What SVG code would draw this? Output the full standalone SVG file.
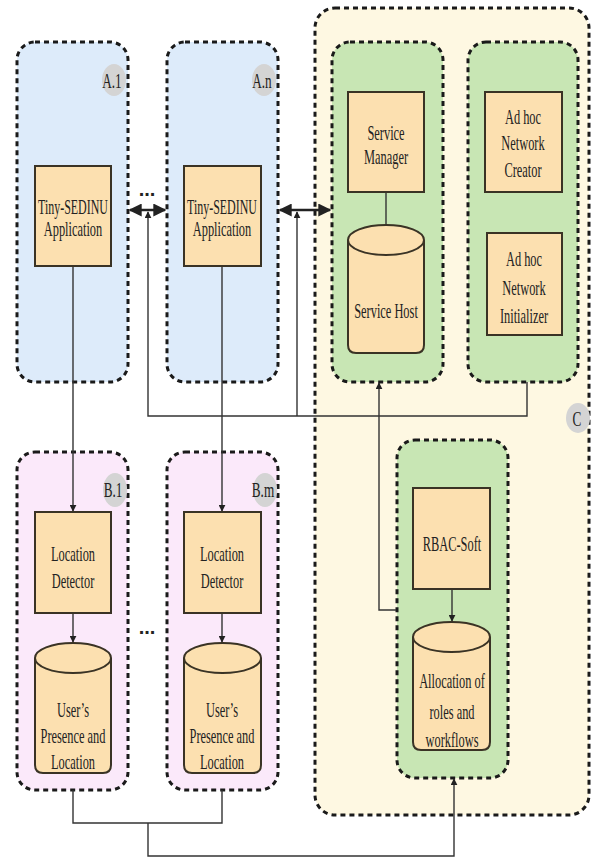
<svg xmlns="http://www.w3.org/2000/svg" width="595" height="858" viewBox="0 0 595 858">
<defs>
<marker id="ah" viewBox="0 0 10 10" refX="9" refY="5" markerWidth="7" markerHeight="7" markerUnits="userSpaceOnUse" orient="auto-start-reverse">
<path d="M0,0 L10,5 L0,10 z" fill="#222"/>
</marker>
<marker id="ah2" viewBox="0 0 10 10" refX="9" refY="5" markerWidth="5" markerHeight="5" orient="auto-start-reverse">
<path d="M0,0 L10,5 L0,10 z" fill="#222"/>
</marker>
</defs>
<style>
.grp{stroke:#1a1a1a;stroke-width:3;stroke-dasharray:5 4}
.blue{fill:#DDEBFA}
.pink{fill:#FBE9FA}
.green{fill:#C8E6B4}
.yel{fill:#FEF8E2}
.box{fill:#FCE0B0;stroke:#3a3325;stroke-width:2}
.badge{fill:#D4D4D4}
.t{font-family:"Liberation Serif","Times New Roman",serif;font-size:21px;fill:#222;text-anchor:middle}
.b{font-family:"Liberation Serif","Times New Roman",serif;font-size:22px;fill:#222;text-anchor:middle}
.c{fill:none;stroke:#333;stroke-width:1.4}
.d{fill:none;stroke:#222;stroke-width:2.6}
.dots{font-family:"Liberation Sans",Arial,sans-serif;font-size:20px;font-weight:bold;fill:#222;text-anchor:middle}
</style>
<rect width="595" height="858" fill="#fff"/>

<g id="groupC">
<rect class="grp yel" x="315" y="8" width="274" height="807" rx="20"/>
<ellipse class="badge" cx="578" cy="418" rx="12" ry="15"/>
<text class="b" transform="translate(577,0) scale(0.6,1)" x="0" y="426">C</text>
</g>

<g id="groupA1">
<rect class="grp blue" x="17" y="42" width="111" height="340" rx="18"/>
<ellipse class="badge" cx="114" cy="80" rx="12" ry="16"/>
<text class="b" transform="translate(112,0) scale(0.6,1)" x="0" y="88">A.1</text>
</g>
<g id="groupAn">
<rect class="grp blue" x="167" y="42" width="111" height="340" rx="18"/>
<ellipse class="badge" cx="264" cy="80" rx="12" ry="16"/>
<text class="b" transform="translate(262,0) scale(0.6,1)" x="0" y="88">A.n</text>
</g>
<g id="groupB1">
<rect class="grp pink" x="17" y="452" width="111" height="338" rx="18"/>
<ellipse class="badge" cx="115" cy="490" rx="12" ry="17"/>
<text class="b" transform="translate(113,0) scale(0.6,1)" x="0" y="497">B.1</text>
</g>
<g id="groupBm">
<rect class="grp pink" x="167" y="452" width="111" height="338" rx="18"/>
<ellipse class="badge" cx="265" cy="490" rx="12" ry="17"/>
<text class="b" transform="translate(263,0) scale(0.6,1)" x="0" y="497">B.m</text>
</g>
<g id="groupService">
<rect class="grp green" x="332" y="42" width="111" height="340" rx="18"/>
</g>
<g id="groupAdhoc">
<rect class="grp green" x="468" y="42" width="110" height="340" rx="18"/>
</g>
<g id="groupRBAC">
<rect class="grp green" x="397" y="440" width="111" height="338" rx="18"/>
</g>

<g id="connectors">
<path class="c" d="M73,266 V511" marker-end="url(#ah)"/>
<path class="c" d="M222,266 V511" marker-end="url(#ah)"/>
<path class="c" d="M73,613 V642" marker-end="url(#ah)"/>
<path class="c" d="M222,613 V642" marker-end="url(#ah)"/>
<path class="d" d="M130,210 H165" marker-start="url(#ah2)" marker-end="url(#ah2)"/>
<path class="d" d="M280,210 H330" marker-start="url(#ah2)" marker-end="url(#ah2)"/>
<path class="c" d="M527,382 V416 H148 V212" marker-end="url(#ah)"/>
<path class="c" d="M297,416 V212" marker-end="url(#ah)"/>
<path class="c" d="M386,192 V225"/>
<path class="c" d="M396,610 H379 V383" marker-end="url(#ah)"/>
<path class="c" d="M452,589 V621" marker-end="url(#ah)"/>
<path class="c" d="M73,790 V823 H222 V790"/>
<path class="c" d="M148,823 V856 H454 V779" marker-end="url(#ah)"/>
</g>

<g id="tinyA1">
<rect class="box" x="35" y="166" width="76" height="100"/>
<text class="t" transform="translate(73,0) scale(0.57,1)" x="0" y="214">Tiny-SEDINU</text>
<text class="t" transform="translate(73,0) scale(0.59,1)" x="0" y="236">Application</text>
</g>
<g id="tinyAn">
<rect class="box" x="184" y="166" width="77" height="100"/>
<text class="t" transform="translate(222,0) scale(0.57,1)" x="0" y="214">Tiny-SEDINU</text>
<text class="t" transform="translate(222,0) scale(0.59,1)" x="0" y="236">Application</text>
</g>
<g id="serviceManager">
<rect class="box" x="348" y="92" width="76" height="100"/>
<text class="t" transform="translate(386,0) scale(0.59,1)" x="0" y="140">Service</text>
<text class="t" transform="translate(386,0) scale(0.59,1)" x="0" y="164">Manager</text>
</g>
<g id="serviceHost">
<path class="box" d="M348,240 V345 Q348,353 356,353 H416 Q424,353 424,345 V240"/>
<ellipse class="box" cx="386" cy="240" rx="38" ry="15"/>
<text class="t" transform="translate(386,0) scale(0.59,1)" x="0" y="318">Service Host</text>
</g>
<g id="adhocCreator">
<rect class="box" x="485" y="92" width="77" height="100"/>
<text class="t" transform="translate(523,0) scale(0.59,1)" x="0" y="124">Ad hoc</text>
<text class="t" transform="translate(523,0) scale(0.59,1)" x="0" y="150">Network</text>
<text class="t" transform="translate(523,0) scale(0.59,1)" x="0" y="177">Creator</text>
</g>
<g id="adhocInitializer">
<rect class="box" x="487" y="233" width="75" height="102"/>
<text class="t" transform="translate(524,0) scale(0.59,1)" x="0" y="266">Ad hoc</text>
<text class="t" transform="translate(524,0) scale(0.59,1)" x="0" y="295">Network</text>
<text class="t" transform="translate(524,0) scale(0.59,1)" x="0" y="323">Initializer</text>
</g>
<g id="rbacSoft">
<rect class="box" x="413" y="488" width="77" height="101"/>
<text class="t" transform="translate(452,0) scale(0.59,1)" x="0" y="551">RBAC-Soft</text>
</g>
<g id="allocation">
<path class="box" d="M413,637 V742 Q413,750 421,750 H482 Q490,750 490,742 V637"/>
<ellipse class="box" cx="451.5" cy="637" rx="38.5" ry="15"/>
<text class="t" transform="translate(452,0) scale(0.59,1)" x="0" y="688">Allocation of</text>
<text class="t" transform="translate(452,0) scale(0.59,1)" x="0" y="719">roles and</text>
<text class="t" transform="translate(452,0) scale(0.59,1)" x="0" y="747">workflows</text>
</g>
<g id="locationB1">
<rect class="box" x="35" y="512" width="76" height="101"/>
<text class="t" transform="translate(73,0) scale(0.59,1)" x="0" y="561">Location</text>
<text class="t" transform="translate(73,0) scale(0.59,1)" x="0" y="588">Detector</text>
</g>
<g id="locationBm">
<rect class="box" x="184" y="512" width="77" height="101"/>
<text class="t" transform="translate(222,0) scale(0.59,1)" x="0" y="561">Location</text>
<text class="t" transform="translate(222,0) scale(0.59,1)" x="0" y="588">Detector</text>
</g>
<g id="presenceB1">
<path class="box" d="M35,658 V765 Q35,773 43,773 H103 Q111,773 111,765 V658"/>
<ellipse class="box" cx="73" cy="658" rx="38" ry="15"/>
<text class="t" transform="translate(73,0) scale(0.59,1)" x="0" y="717">User’s</text>
<text class="t" transform="translate(73,0) scale(0.59,1)" x="0" y="743">Presence and</text>
<text class="t" transform="translate(73,0) scale(0.59,1)" x="0" y="769">Location</text>
</g>
<g id="presenceBm">
<path class="box" d="M184,658 V765 Q184,773 192,773 H253 Q261,773 261,765 V658"/>
<ellipse class="box" cx="222.5" cy="658" rx="38.5" ry="15"/>
<text class="t" transform="translate(222,0) scale(0.59,1)" x="0" y="717">User’s</text>
<text class="t" transform="translate(222,0) scale(0.59,1)" x="0" y="743">Presence and</text>
<text class="t" transform="translate(222,0) scale(0.59,1)" x="0" y="769">Location</text>
</g>

<text class="dots" x="147" y="196">...</text>
<text class="dots" x="147" y="634">...</text>
</svg>
